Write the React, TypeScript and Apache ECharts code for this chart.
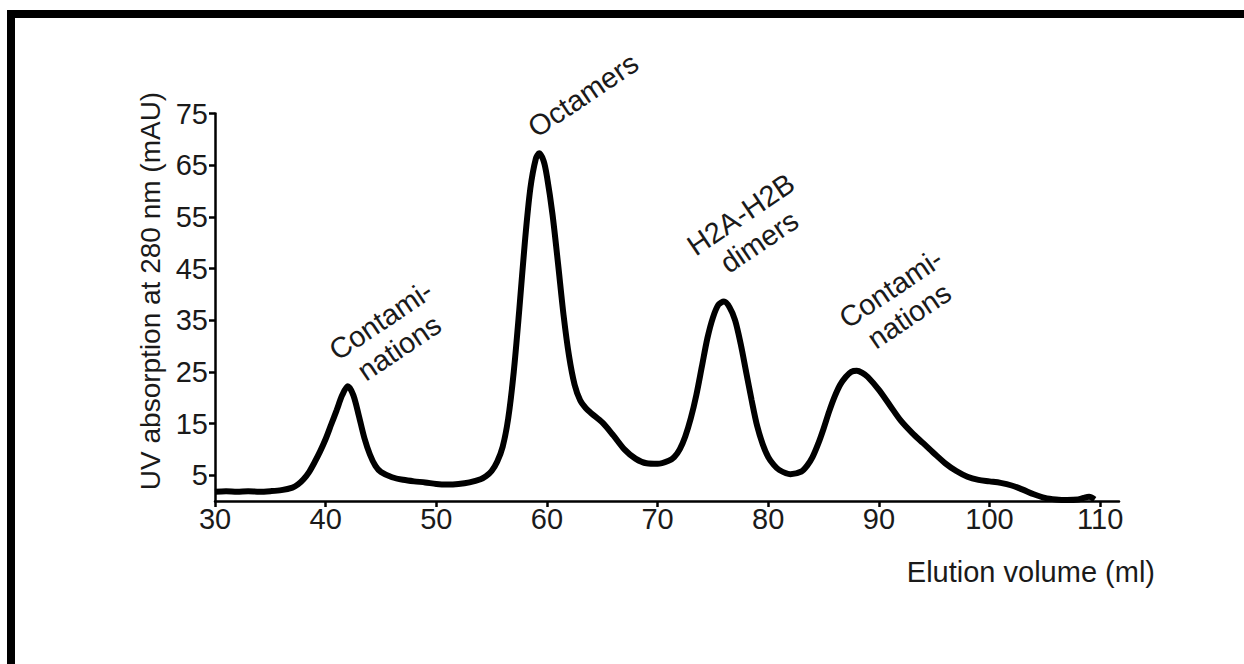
import React, { useEffect, useRef } from "react";
import * as echarts from "echarts";

const elutionVolume = [30,31,32,33,34,35,36,37,37.5,38,38.5,39,39.5,40,40.5,41,41.5,42,42.5,43,43.5,44,44.5,45,46,47,48,49,50,51,52,53,54,54.5,55,55.5,56,56.5,57,57.5,58,58.5,59,59.3,59.7,60,60.5,61,61.5,62,62.5,63,63.5,64,65,66,67,68,69,70,71,71.5,72,72.5,73,73.5,74,74.5,75,75.5,76,76.5,77,77.5,78,78.5,79,79.5,80,80.5,81,82,83,83.5,84,84.5,85,85.5,86,86.5,87,87.5,88,88.5,89,90,91,92,93,94,95,96,97,98,99,100,101,102,103,104,105,106,107,108,108.5,109,109.5];
const absorbance = [1.8,1.9,1.8,1.9,1.8,1.9,2.1,2.6,3.2,4.2,5.6,7.5,9.6,12,14.8,17.6,20.5,22.2,20.5,16.5,12.2,9,6.8,5.6,4.6,4.1,3.8,3.6,3.3,3.2,3.3,3.6,4.2,4.8,5.8,7.6,10.5,16,25,37,50,60.5,66.3,67.3,65.8,62.8,55.5,46,36,28,22.5,19.5,18,17,15.2,12.7,10,8.2,7.3,7.2,7.8,8.5,10,12.5,16,20.5,26,31.5,35.5,38,38.6,37.5,35,30.5,25,19.5,14.5,11,8.5,7,6,5.2,5.7,6.8,8.5,11,14,17.3,20.2,22.5,24,25,25.2,24.8,24,21.5,18.5,15.5,13.2,11.2,9.2,7.3,5.8,4.7,4.1,3.8,3.5,3.0,2.2,1.3,0.6,0.3,0.2,0.3,0.6,0.8,0.3];
const yTickValues = [5, 15, 25, 35, 45, 55, 65, 75];
const peakLabels = ["Contami-\nnations", "Octamers", "H2A-H2B\ndimers", "Contami-\nnations"];
const peakLabelPos = [[390, 334], [583, 95], [750, 228], [900, 302]];

const FONT = '"Liberation Sans", Arial, Helvetica, sans-serif';
const TXT = "#1a1a1a";

export default function App() {
  const ref = useRef<HTMLDivElement>(null);
  useEffect(() => {
    if (!ref.current) return;
    const chart = echarts.init(ref.current, null, { renderer: "svg" });
    const data = elutionVolume.map((x, i) => [x, absorbance[i]]);
    const rot = (34 * Math.PI) / 180;
    chart.setOption({
      animation: false,
      backgroundColor: "#ffffff",
      grid: { left: 215, right: 125, top: 113.5, bottom: 163, containLabel: false },
      xAxis: {
        type: "value",
        min: 30,
        max: 111.7,
        interval: 10,
        axisLine: { show: true, lineStyle: { color: "#000", width: 2.5 } },
        axisTick: { show: true, length: 6, lineStyle: { color: "#000", width: 2.5 } },
        axisLabel: { fontSize: 29, color: TXT, fontFamily: FONT, margin: 3, showMaxLabel: false },
        splitLine: { show: false },
      },
      yAxis: {
        type: "value",
        min: 0,
        max: 75,
        axisLine: { show: true, lineStyle: { color: "#000", width: 2.5 } },
        axisTick: { show: true, length: 6, customValues: yTickValues, lineStyle: { color: "#000", width: 2.5 } },
        axisLabel: { fontSize: 29, color: TXT, fontFamily: FONT, margin: 7, customValues: yTickValues },
        splitLine: { show: false },
      },
      series: [
        {
          type: "line",
          data,
          smooth: 0.3,
          showSymbol: false,
          lineStyle: { color: "#000", width: 6 },
        },
      ],
      graphic: [
        { type: "rect", shape: { x: 7, y: 10, width: 1237, height: 8 }, style: { fill: "#000" } },
        { type: "rect", shape: { x: 7, y: 10, width: 8, height: 654 }, style: { fill: "#000" } },
        {
          type: "text",
          x: 150,
          y: 291,
          rotation: Math.PI / 2,
          style: {
            text: "UV absorption at 280 nm (mAU)",
            fontSize: 28,
            fontFamily: FONT,
            fill: TXT,
            textAlign: "center",
            textVerticalAlign: "middle",
          },
        },
        {
          type: "text",
          x: 1155,
          y: 572,
          style: {
            text: "Elution volume (ml)",
            fontSize: 29,
            fontFamily: FONT,
            fill: TXT,
            textAlign: "right",
            textVerticalAlign: "middle",
          },
        },
        ...peakLabels.map((t, i) => ({
          type: "text",
          x: peakLabelPos[i][0],
          y: peakLabelPos[i][1],
          rotation: rot,
          style: {
            text: t,
            fontSize: 29,
            lineHeight: 33,
            fontFamily: FONT,
            fill: TXT,
            textAlign: "center",
            textVerticalAlign: "middle",
          },
        })),
      ],
    });
    return () => chart.dispose();
  }, []);
  return (
    <div
      ref={ref}
      style={{ position: "fixed", left: 0, top: 0, width: 1244, height: 664, background: "#fff" }}
    />
  );
}
